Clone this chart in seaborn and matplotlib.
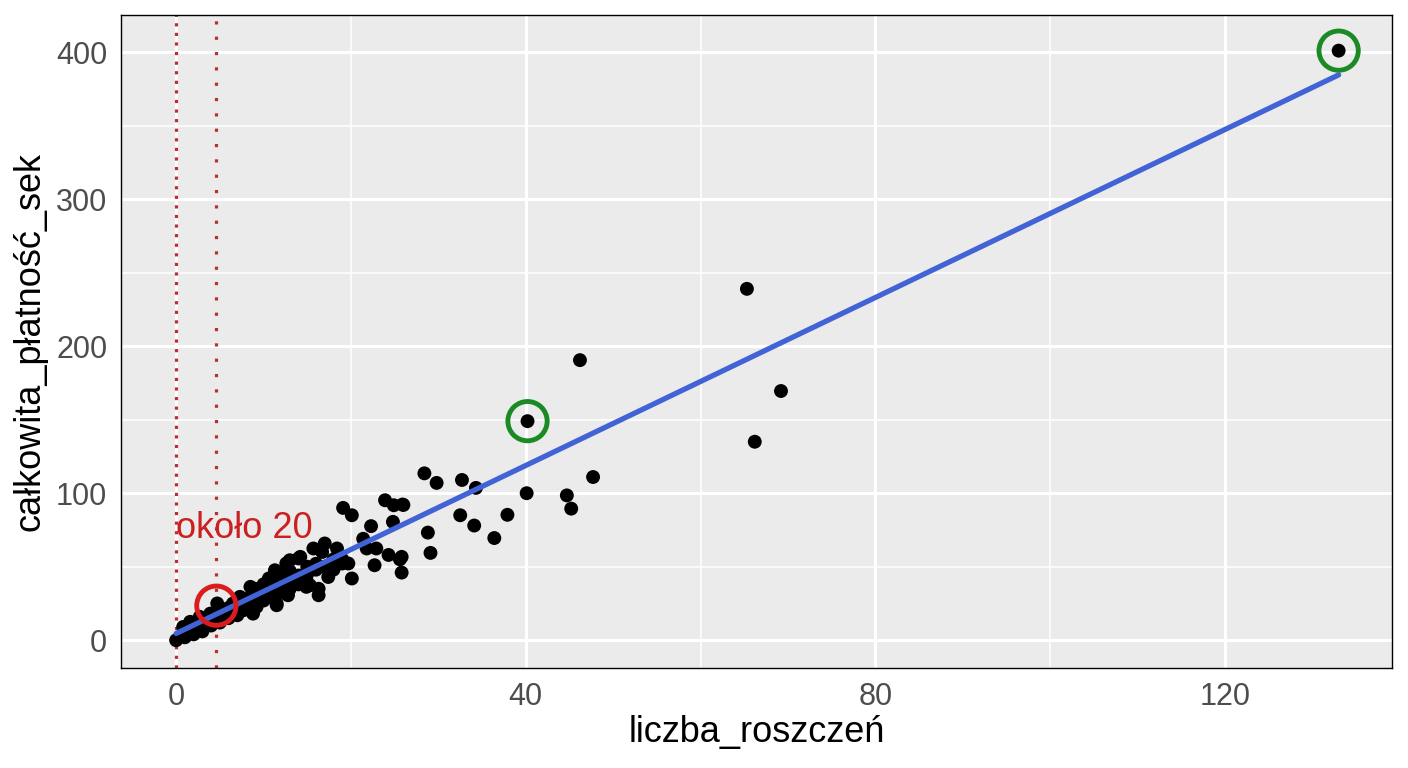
import numpy as np
import pandas as pd
import seaborn as sns
import matplotlib.pyplot as plt
from matplotlib.ticker import MultipleLocator

# values
claims = [
    133.0, 65.3, 46.2, 69.2, 66.2, 40.2, 40.1, 47.7, 44.7, 45.2,
    36.4, 37.9, 34.1, 32.5, 34.3, 32.7, 29.8, 28.4, 26.0, 28.8,
    29.1, 25.8, 25.6, 25.8, 24.3, 22.7, 23.9, 24.9, 25.9, 24.8,
    22.3, 21.4, 21.8, 22.9, 19.1, 20.1, 20.1, 19.7, 19.0, 15.7,
    17.0, 18.4, 16.7, 17.4, 16.3, 16.3, 14.2, 13.0, 11.3, 14.8,
    15.3, 12.8, 11.5, 10.0, 14.0, 12.6, 10.6, 14.9, 14.9, 12.6,
    11.5, 9.2, 8.5, 9.6, 7.3, 6.5, 4.7, 5.8, 3.9, 2.7,
    1.6, 0.8, 0.0, 7.7, 8.8,
    1, 2, 3, 4, 5, 6, 7, 8, 9, 10,
    11, 12, 13, 14, 2, 3, 4, 5, 6, 7,
    8, 9, 10, 11, 12, 13, 10, 11, 12, 13,
    14, 15, 16, 17, 18, 6, 7, 8, 9, 3,
    2, 1, 5, 4, 18, 19, 16, 13, 15,
]
payment = [
    401.0, 239.0, 190.5, 169.5, 135.0, 149.0, 100.0, 111.0, 98.5, 89.5,
    69.5, 85.3, 78.0, 85.0, 103.6, 109.0, 107.0, 113.5, 92.0, 73.2,
    59.4, 56.7, 55.0, 46.0, 58.0, 51.0, 95.2, 91.8, 92.3, 80.5,
    77.6, 69.0, 62.4, 62.4, 90.0, 85.0, 42.0, 52.2, 52.2, 62.4,
    65.8, 62.4, 60.0, 43.0, 30.6, 35.0, 56.7, 54.4, 47.6, 42.2,
    37.4, 30.6, 25.0, 33.0, 55.6, 52.2, 42.0, 40.8, 36.3, 31.8,
    23.8, 22.7, 36.3, 31.8, 29.5, 25.0, 25.0, 20.4, 18.1, 15.9,
    12.5, 9.0, 0.0, 20.4, 18.1,
    4, 6, 9, 12, 15, 18, 21, 24, 27, 30,
    33, 36, 39, 44, 8, 12, 15, 18, 22, 25,
    28, 35, 38, 40, 45, 47, 27, 29, 33, 35,
    38, 45, 48, 50, 55, 15, 17, 22, 25, 6,
    4, 2, 12, 10, 48, 55, 52, 42, 50,
]

# fitted line (lm) as drawn in the reference
fit_x = [0.0, 133.0]
fit_y = [4.6, 384.5]

red_circle_x = [4.6]
red_circle_y = [23.5]
green_circle_x = [40.2, 133.0]
green_circle_y = [149.0, 401.0]
note_text = "około 20"
note_pos = (0, 76)

df = pd.DataFrame({"liczba_roszczeń": claims, "całkowita_płatność_sek": payment})

sns.set_theme(style="darkgrid", rc={
    "axes.facecolor": "#ebebeb",
    "grid.color": "white",
    "axes.edgecolor": "black",
    "axes.linewidth": 1.0,
})
plt.rcParams["font.family"] = ["Liberation Sans", "DejaVu Sans"]

fig = plt.figure(figsize=(14.08, 7.68), dpi=100)
ax = fig.add_axes([0.086, 0.130, 0.9026, 0.850])

# dotted markers at 0 and ~4.6 claims
ax.axvline(0, color="#b8302f", lw=2.3, ls=(0, (1, 2.0)), zorder=2)
ax.axvline(4.6, color="#b8302f", lw=2.3, ls=(0, (1, 3.8)), zorder=2)

sns.scatterplot(data=df, x="liczba_roszczeń", y="całkowita_płatność_sek", ax=ax,
                color="black", s=100, edgecolor="none", zorder=3)
sns.lineplot(x=fit_x, y=fit_y, ax=ax, color="#4163d6", lw=3.8, zorder=4)

sns.scatterplot(x=red_circle_x, y=red_circle_y, ax=ax, s=800, facecolor="none",
                edgecolor="#dc1c1c", linewidth=3.5, zorder=5)
sns.scatterplot(x=green_circle_x, y=green_circle_y, ax=ax, s=800, facecolor="none",
                edgecolor="#1b8a25", linewidth=3.5, zorder=5)

ax.text(note_pos[0], note_pos[1], note_text, color="#cc1f1f", fontsize=26,
        va="center", ha="left", zorder=6)

ax.set_xlim(-6.3, 139.1)
ax.set_ylim(-19, 425)
ax.xaxis.set_major_locator(MultipleLocator(40))
ax.xaxis.set_minor_locator(MultipleLocator(20))
ax.yaxis.set_major_locator(MultipleLocator(100))
ax.yaxis.set_minor_locator(MultipleLocator(50))
ax.grid(which="major", color="white", lw=2.2)
ax.grid(which="minor", color="white", lw=1.1)
ax.tick_params(which="major", length=6, width=1.5, color="#333333",
               labelsize=22, labelcolor="#4d4d4d", pad=4)
ax.tick_params(which="minor", length=0)
for s in ax.spines.values():
    s.set_visible(True)
    s.set_color("black")
    s.set_linewidth(1.0)

ax.set_xlabel("liczba_roszczeń", fontsize=26, color="black", labelpad=2)
ax.set_ylabel("całkowita_płatność_sek", fontsize=26, color="black", labelpad=6)

fig.savefig("out.png", dpi=100)
